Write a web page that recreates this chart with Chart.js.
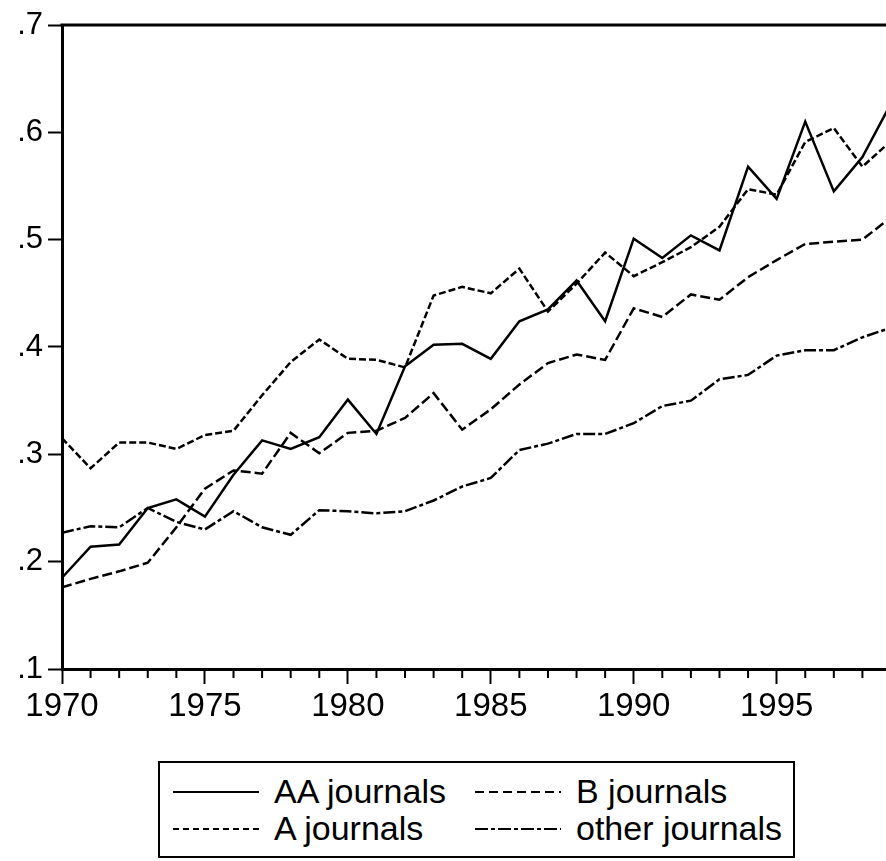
<!DOCTYPE html>
<html>
<head>
<meta charset="utf-8">
<script src="https://cdn.jsdelivr.net/npm/chart.js@4/dist/chart.umd.min.js"></script>
<style>
    html, body { margin: 0; padding: 0; background: #fff; overflow: hidden; width: 886px; height: 861px; }
    #chartBox { position: absolute; left: 0; top: 0; width: 895px; height: 730px; }
    #legend {
        position: absolute; left: 158px; top: 761px; width: 637px; height: 97px;
        border: 2px solid #000; padding-top: 10px; box-sizing: border-box;
        font-family: "Liberation Sans", Arial, sans-serif; font-size: 34px; color: #000;
        display: grid; grid-template-columns: 302px auto; grid-auto-rows: 37px; padding-left: 13px;
    }
    .item { display: flex; align-items: flex-start; line-height: 37px; height: 37px; white-space: nowrap; }
    .item svg { margin-right: 15px; flex: none; }
</style>
</head>
<body>
<div id="chartBox"><canvas id="paperChart" width="895" height="730"></canvas></div>
<div id="legend"></div>
<script>
const years = [1970, 1971, 1972, 1973, 1974, 1975, 1976, 1977, 1978, 1979,
    1980, 1981, 1982, 1983, 1984, 1985, 1986, 1987, 1988, 1989,
    1990, 1991, 1992, 1993, 1994, 1995, 1996, 1997, 1998, 1999];

const aaJournals = [0.185, 0.214, 0.216, 0.250, 0.258, 0.242, 0.281, 0.313, 0.305, 0.316,
    0.351, 0.319, 0.382, 0.402, 0.403, 0.389, 0.424, 0.435, 0.462, 0.424,
    0.501, 0.483, 0.504, 0.490, 0.568, 0.538, 0.610, 0.545, 0.577, 0.627];

const aJournals = [0.315, 0.287, 0.311, 0.311, 0.305, 0.318, 0.322, 0.355, 0.386, 0.407,
    0.389, 0.388, 0.381, 0.448, 0.456, 0.450, 0.473, 0.433, 0.459, 0.488,
    0.466, 0.479, 0.493, 0.512, 0.547, 0.542, 0.591, 0.604, 0.568, 0.592];

const bJournals = [0.176, 0.184, 0.191, 0.199, 0.232, 0.268, 0.285, 0.282, 0.320, 0.301,
    0.320, 0.322, 0.334, 0.357, 0.323, 0.342, 0.365, 0.385, 0.393, 0.388,
    0.436, 0.428, 0.449, 0.444, 0.465, 0.481, 0.496, 0.498, 0.500, 0.521];

const otherJournals = [0.227, 0.233, 0.232, 0.250, 0.237, 0.230, 0.247, 0.232, 0.225, 0.248,
    0.247, 0.245, 0.247, 0.257, 0.270, 0.278, 0.304, 0.310, 0.319, 0.319,
    0.329, 0.345, 0.350, 0.370, 0.374, 0.392, 0.397, 0.397, 0.409, 0.418];

const xTicks = [1970, 1975, 1980, 1985, 1990, 1995];
const yTicks = [0.1, 0.2, 0.3, 0.4, 0.5, 0.6, 0.7];
const yTickLabels = ['.1', '.2', '.3', '.4', '.5', '.6', '.7'];

// legend order: left column then right column, row by row
const series = [
    { label: 'AA journals', values: aaJournals, dash: [], legendDash: '' },
    { label: 'B journals', values: bJournals, dash: [10, 4], legendDash: '9 5' },
    { label: 'A journals', values: aJournals, dash: [7, 3], legendDash: '6 4' },
    { label: 'other journals', values: otherJournals, dash: [12, 3, 4, 3], legendDash: '13 3 4 3' }
];

const fontName = '"Liberation Sans", Arial, sans-serif';

// top border of the plot box and the small yearly ticks on the time axis
const frameAndMinorTicks = {
    id: 'frameAndMinorTicks',
    afterDraw(chart) {
        const ctx = chart.ctx;
        const area = chart.chartArea;
        const xScale = chart.scales.x;
        ctx.save();
        ctx.strokeStyle = '#000';
        ctx.lineWidth = 3;
        ctx.beginPath();
        ctx.moveTo(area.left - 1.5, area.top);
        ctx.lineTo(area.right, area.top);
        ctx.lineTo(area.right, area.bottom);
        ctx.stroke();

        ctx.lineWidth = 2;
        ctx.beginPath();
        years.forEach(year => {
            if (xTicks.includes(year)) return;
            const px = xScale.getPixelForValue(year);
            ctx.moveTo(px, area.bottom);
            ctx.lineTo(px, area.bottom + 9);
        });
        ctx.stroke();
        ctx.restore();
    }
};

const datasets = series.map(s => ({
    label: s.label,
    data: s.values.map((v, i) => ({ x: years[i], y: v })),
    borderColor: '#000',
    backgroundColor: '#000',
    borderWidth: 2.5,
    borderDash: s.dash,
    pointRadius: 0,
    tension: 0,
    fill: false
}));

const config = {
    type: 'line',
    data: { datasets: datasets },
    options: {
        responsive: false,
        animation: false,
        events: [],
        layout: { padding: { top: 25, right: 4, left: 0, bottom: 0 } },
        plugins: {
            legend: { display: false },
            tooltip: { enabled: false }
        },
        scales: {
            x: {
                type: 'linear',
                min: 1970,
                max: 1999,
                afterBuildTicks: scale => { scale.ticks = xTicks.map(v => ({ value: v })); },
                afterFit: scale => { scale.height = 61; },
                ticks: {
                    color: '#000',
                    font: { family: fontName, size: 33 },
                    padding: 3,
                    maxRotation: 0,
                    autoSkip: false,
                    callback: v => String(v)
                },
                grid: { drawOnChartArea: false, drawTicks: true, tickLength: 15, tickWidth: 2, tickColor: '#000' },
                border: { display: true, color: '#000', width: 3 }
            },
            y: {
                min: 0.1,
                max: 0.7,
                afterBuildTicks: scale => { scale.ticks = yTicks.map(v => ({ value: v })); },
                afterFit: scale => { scale.width = 62; },
                ticks: {
                    color: '#000',
                    font: { family: fontName, size: 31 },
                    padding: 5,
                    callback: v => yTickLabels[yTicks.findIndex(t => Math.abs(t - v) < 1e-6)]
                },
                grid: { drawOnChartArea: false, drawTicks: true, tickLength: 14, tickWidth: 2, tickColor: '#000' },
                border: { display: true, color: '#000', width: 3 }
            }
        }
    },
    plugins: [frameAndMinorTicks]
};

function BuildLegend() {
    const legend = document.getElementById('legend');
    series.forEach(s => {
        const item = document.createElement('div');
        item.className = 'item';
        const dashAttr = s.legendDash ? ` stroke-dasharray="${s.legendDash}"` : '';
        item.innerHTML =
            `<svg width="86" height="37"><line x1="0" y1="19" x2="86" y2="19" stroke="#000" stroke-width="2"${dashAttr}/></svg>` +
            `<span>${s.label}</span>`;
        legend.appendChild(item);
    });
}

BuildLegend();
new Chart(document.getElementById('paperChart'), config);
</script>
</body>
</html>
